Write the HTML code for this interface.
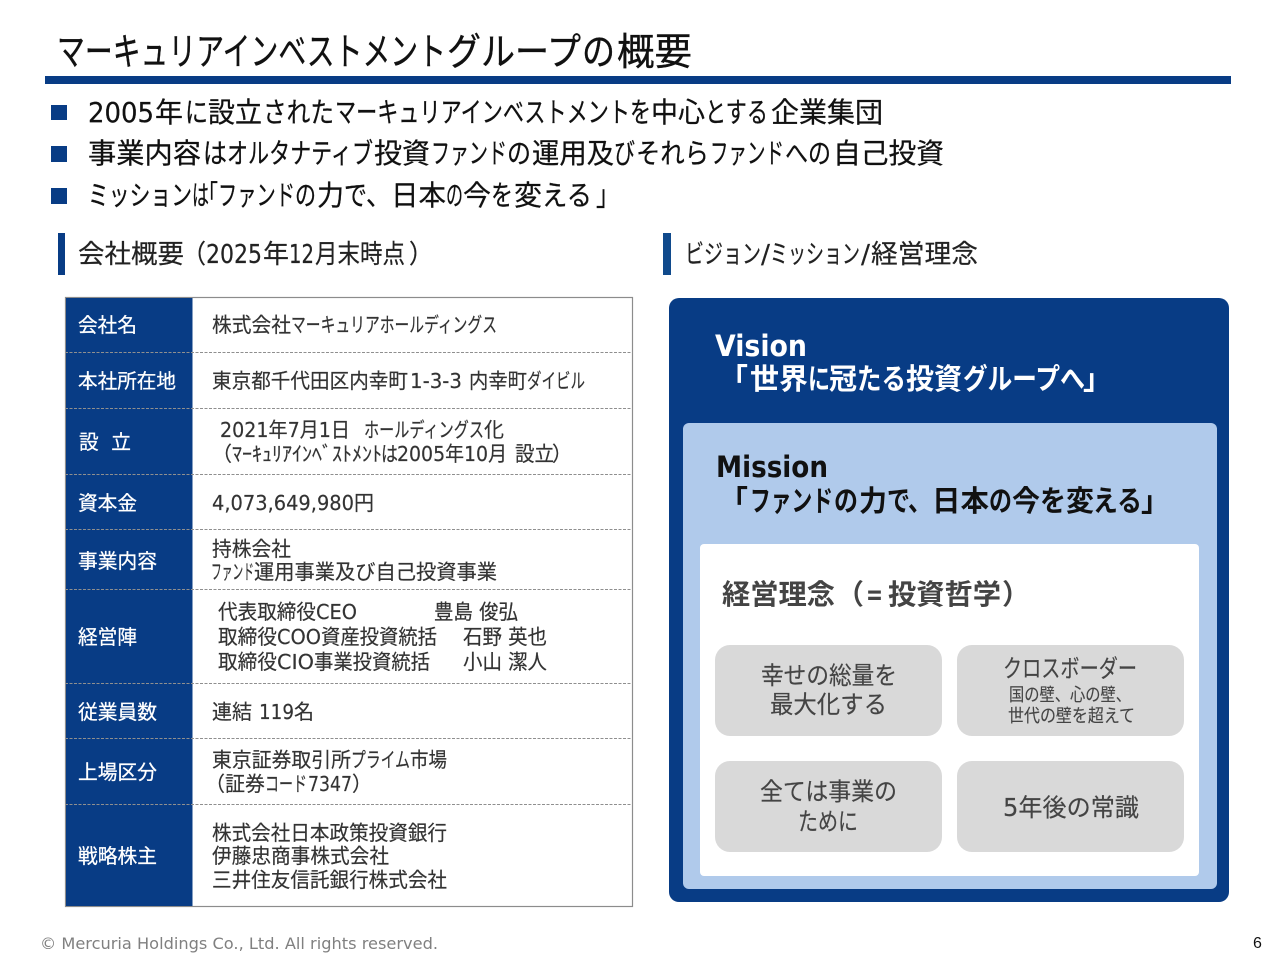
<!DOCTYPE html>
<html lang="ja"><head><meta charset="utf-8">
<style>
html,body{margin:0;padding:0;background:#fff;width:1280px;height:960px;overflow:hidden}
svg{display:block}
text{font-family:"DejaVu Sans","Noto Sans CJK JP",sans-serif;white-space:pre}
.ti{fill:#111;stroke:#111;stroke-width:.35px;font-size:38px}
.b{fill:#111;stroke:#111;stroke-width:.25px;font-size:28px}
.s{fill:#222;stroke:#222;stroke-width:.2px;font-size:26px}
.t{fill:#333;stroke:#333;stroke-width:.18px;font-size:20.5px}
.h{fill:#fff;stroke:#fff;stroke-width:.25px;font-size:20px}
.g{fill:#444;stroke:#444;stroke-width:.15px;font-size:24.5px}
.sm{fill:#444;stroke:#444;stroke-width:.12px;font-size:18px}
.v{font-weight:700;fill:#fff;font-size:29px}
.m{font-weight:700;fill:#111;font-size:29px}
.k{font-weight:700;fill:#444;font-size:28px}
</style></head><body>
<svg xmlns="http://www.w3.org/2000/svg" width="1280" height="960" viewBox="0 0 1280 960">
<rect width="1280" height="960" fill="#fff"/>
<text class="ti" x="57" y="65" textLength="389" lengthAdjust="spacingAndGlyphs">マーキュリアインベストメント</text>
<text class="ti" x="447" y="65" textLength="134" lengthAdjust="spacingAndGlyphs">グループ</text>
<text class="ti" x="582" y="65" textLength="33" lengthAdjust="spacingAndGlyphs">の</text>
<text class="ti" x="617" y="65" textLength="75" lengthAdjust="spacingAndGlyphs">概要</text>
<rect x="45" y="76" width="1186" height="8" fill="#083c85"/>

<rect x="51" y="105" width="16" height="15" fill="#083c85"/>
<rect x="51" y="146" width="16" height="16" fill="#083c85"/>
<rect x="51" y="188" width="16" height="16" fill="#083c85"/>

<text class="b" x="88" y="122" textLength="66" lengthAdjust="spacingAndGlyphs">2005</text>
<text class="b" x="155" y="122" textLength="28" lengthAdjust="spacingAndGlyphs">年</text>
<text class="b" x="185" y="122" textLength="23" lengthAdjust="spacingAndGlyphs">に</text>
<text class="b" x="208" y="122" textLength="54" lengthAdjust="spacingAndGlyphs">設立</text>
<text class="b" x="263" y="122" textLength="71" lengthAdjust="spacingAndGlyphs">された</text>
<text class="b" x="335" y="122" textLength="295" lengthAdjust="spacingAndGlyphs">マーキュリアインベストメント</text>
<text class="b" x="630" y="122" textLength="21" lengthAdjust="spacingAndGlyphs">を</text>
<text class="b" x="651" y="122" textLength="54" lengthAdjust="spacingAndGlyphs">中心</text>
<text class="b" x="705" y="122" textLength="63" lengthAdjust="spacingAndGlyphs">とする</text>
<text class="b" x="771" y="122" textLength="112" lengthAdjust="spacingAndGlyphs">企業集団</text>

<text class="b" x="88" y="163" textLength="113" lengthAdjust="spacingAndGlyphs">事業内容</text>
<text class="b" x="203" y="163" textLength="24" lengthAdjust="spacingAndGlyphs">は</text>
<text class="b" x="227" y="163" textLength="146" lengthAdjust="spacingAndGlyphs">オルタナティブ</text>
<text class="b" x="374" y="163" textLength="56" lengthAdjust="spacingAndGlyphs">投資</text>
<text class="b" x="431" y="163" textLength="76" lengthAdjust="spacingAndGlyphs">ファンド</text>
<text class="b" x="507" y="163" textLength="24" lengthAdjust="spacingAndGlyphs">の</text>
<text class="b" x="532" y="163" textLength="82" lengthAdjust="spacingAndGlyphs">運用及</text>
<text class="b" x="614" y="163" textLength="21" lengthAdjust="spacingAndGlyphs">び</text>
<text class="b" x="636" y="163" textLength="73" lengthAdjust="spacingAndGlyphs">それら</text>
<text class="b" x="710" y="163" textLength="74" lengthAdjust="spacingAndGlyphs">ファンド</text>
<text class="b" x="785" y="163" textLength="46" lengthAdjust="spacingAndGlyphs">への</text>
<text class="b" x="833" y="163" textLength="111" lengthAdjust="spacingAndGlyphs">自己投資</text>

<text class="b" x="88" y="205" textLength="104" lengthAdjust="spacingAndGlyphs">ミッション</text>
<text class="b" x="192" y="205" textLength="17" lengthAdjust="spacingAndGlyphs">は</text>
<text class="b" x="198" y="205" textLength="20" lengthAdjust="spacingAndGlyphs">「</text>
<text class="b" x="218" y="205" textLength="77" lengthAdjust="spacingAndGlyphs">ファンド</text>
<text class="b" x="295" y="205" textLength="21" lengthAdjust="spacingAndGlyphs">の</text>
<text class="b" x="317" y="205" textLength="27" lengthAdjust="spacingAndGlyphs">力</text>
<text class="b" x="344" y="205" textLength="23" lengthAdjust="spacingAndGlyphs">で</text>
<text class="b" x="366" y="205" textLength="25" lengthAdjust="spacingAndGlyphs">、</text>
<text class="b" x="391" y="205" textLength="55" lengthAdjust="spacingAndGlyphs">日本</text>
<text class="b" x="446" y="205" textLength="17" lengthAdjust="spacingAndGlyphs">の</text>
<text class="b" x="463" y="205" textLength="28" lengthAdjust="spacingAndGlyphs">今</text>
<text class="b" x="491" y="205" textLength="22" lengthAdjust="spacingAndGlyphs">を</text>
<text class="b" x="514" y="205" textLength="28" lengthAdjust="spacingAndGlyphs">変</text>
<text class="b" x="542" y="205" textLength="50" lengthAdjust="spacingAndGlyphs">える</text>
<text class="b" x="596" y="205" textLength="24" lengthAdjust="spacingAndGlyphs">」</text>

<rect x="58" y="233" width="7" height="42" fill="#083c85"/>
<text class="s" x="78" y="263" textLength="106" lengthAdjust="spacingAndGlyphs">会社概要</text>
<text class="s" x="182" y="263" textLength="24" lengthAdjust="spacingAndGlyphs">（</text>
<text class="s" x="206" y="263" textLength="56" lengthAdjust="spacingAndGlyphs">2025</text>
<text class="s" x="263" y="263" textLength="26" lengthAdjust="spacingAndGlyphs">年</text>
<text class="s" x="289" y="263" textLength="25" lengthAdjust="spacingAndGlyphs">12</text>
<text class="s" x="315" y="263" textLength="90" lengthAdjust="spacingAndGlyphs">月末時点</text>
<text class="s" x="409" y="263" textLength="24" lengthAdjust="spacingAndGlyphs">）</text>

<rect x="663" y="233" width="8" height="42" fill="#104a8c"/>
<text class="s" x="685" y="263" textLength="76" lengthAdjust="spacingAndGlyphs">ビジョン</text>
<text class="s" x="761" y="263" textLength="9" lengthAdjust="spacingAndGlyphs">/</text>
<text class="s" x="770" y="263" textLength="90" lengthAdjust="spacingAndGlyphs">ミッション</text>
<text class="s" x="861" y="263" textLength="9" lengthAdjust="spacingAndGlyphs">/</text>
<text class="s" x="871" y="263" textLength="107" lengthAdjust="spacingAndGlyphs">経営理念</text>

<!-- table -->
<rect x="65.500" y="297.500" width="567" height="609" fill="#fff" stroke="#8c8c8c" stroke-width="1.2"/>
<rect x="66" y="298" width="126.500" height="608" fill="#083c85"/>
<g stroke="#8f8f8f" stroke-width="1" stroke-dasharray="3 1.500" fill="none">
<path d="M65 352.500H633M65 408.500H633M65 474.500H633M65 529.500H633M65 589.500H633M65 683.500H633M65 738.500H633M65 804.500H633"/>
</g>

<text class="h" x="78" y="332" textLength="59" lengthAdjust="spacingAndGlyphs">会社名</text>
<text class="h" x="78" y="388" textLength="98" lengthAdjust="spacingAndGlyphs">本社所在地</text>
<text class="h" x="79" y="449" textLength="52" lengthAdjust="spacingAndGlyphs">設  立</text>
<text class="h" x="78" y="510" textLength="59" lengthAdjust="spacingAndGlyphs">資本金</text>
<text class="h" x="78" y="568" textLength="79" lengthAdjust="spacingAndGlyphs">事業内容</text>
<text class="h" x="78" y="644" textLength="59" lengthAdjust="spacingAndGlyphs">経営陣</text>
<text class="h" x="78" y="719" textLength="79" lengthAdjust="spacingAndGlyphs">従業員数</text>
<text class="h" x="78" y="779" textLength="79" lengthAdjust="spacingAndGlyphs">上場区分</text>
<text class="h" x="78" y="863" textLength="79" lengthAdjust="spacingAndGlyphs">戦略株主</text>

<text class="t" x="212" y="332" textLength="79" lengthAdjust="spacingAndGlyphs">株式会社</text>
<text class="t" x="291" y="332" textLength="206" lengthAdjust="spacingAndGlyphs">マーキュリアホールディングス</text>
<text class="t" x="212" y="388" textLength="196" lengthAdjust="spacingAndGlyphs">東京都千代田区内幸町</text>
<text class="t" x="410" y="388" textLength="52" lengthAdjust="spacingAndGlyphs">1-3-3</text>
<text class="t" x="469" y="388" textLength="58" lengthAdjust="spacingAndGlyphs">内幸町</text>
<text class="t" x="527" y="388" textLength="58" lengthAdjust="spacingAndGlyphs">ダイビル</text>
<text class="t" x="220" y="437" textLength="130" lengthAdjust="spacingAndGlyphs">2021年7月1日</text>
<text class="t" x="364" y="437" textLength="120" lengthAdjust="spacingAndGlyphs">ホールディングス</text>
<text class="t" x="484" y="437" textLength="20" lengthAdjust="spacingAndGlyphs">化</text>
<text class="t" x="212" y="461" textLength="20" lengthAdjust="spacingAndGlyphs">（</text>
<text class="t" x="232" y="461" textLength="150" lengthAdjust="spacingAndGlyphs">ﾏｰｷｭﾘｱｲﾝﾍﾞｽﾄﾒﾝﾄ</text>
<text class="t" x="381" y="461" textLength="17" lengthAdjust="spacingAndGlyphs">は</text>
<text class="t" x="397" y="461" textLength="110" lengthAdjust="spacingAndGlyphs">2005年10月</text>
<text class="t" x="515" y="461" textLength="39" lengthAdjust="spacingAndGlyphs">設立</text>
<text class="t" x="552" y="461" textLength="20" lengthAdjust="spacingAndGlyphs">）</text>
<text class="t" x="212" y="510" textLength="142" lengthAdjust="spacingAndGlyphs">4,073,649,980</text>
<text class="t" x="354" y="510" textLength="20" lengthAdjust="spacingAndGlyphs">円</text>
<text class="t" x="212" y="556" textLength="79" lengthAdjust="spacingAndGlyphs">持株会社</text>
<text class="t" x="211" y="579" textLength="43" lengthAdjust="spacingAndGlyphs">ファンド</text>
<text class="t" x="254" y="579" textLength="243" lengthAdjust="spacingAndGlyphs">運用事業及び自己投資事業</text>
<text class="t" x="218" y="619" textLength="98" lengthAdjust="spacingAndGlyphs">代表取締役</text>
<text class="t" x="316" y="619" textLength="41" lengthAdjust="spacingAndGlyphs">CEO</text>
<text class="t" x="434" y="619" textLength="84" lengthAdjust="spacingAndGlyphs">豊島 俊弘</text>
<text class="t" x="218" y="644" textLength="59" lengthAdjust="spacingAndGlyphs">取締役</text>
<text class="t" x="277" y="644" textLength="44" lengthAdjust="spacingAndGlyphs">COO</text>
<text class="t" x="321" y="644" textLength="116" lengthAdjust="spacingAndGlyphs">資産投資統括</text>
<text class="t" x="463" y="644" textLength="84" lengthAdjust="spacingAndGlyphs">石野 英也</text>
<text class="t" x="218" y="669" textLength="59" lengthAdjust="spacingAndGlyphs">取締役</text>
<text class="t" x="277" y="669" textLength="37" lengthAdjust="spacingAndGlyphs">CIO</text>
<text class="t" x="314" y="669" textLength="116" lengthAdjust="spacingAndGlyphs">事業投資統括</text>
<text class="t" x="463" y="669" textLength="84" lengthAdjust="spacingAndGlyphs">小山 潔人</text>
<text class="t" x="212" y="719" textLength="40" lengthAdjust="spacingAndGlyphs">連結</text>
<text class="t" x="259" y="719" textLength="35" lengthAdjust="spacingAndGlyphs">119</text>
<text class="t" x="294" y="719" textLength="20" lengthAdjust="spacingAndGlyphs">名</text>
<text class="t" x="212" y="767" textLength="139" lengthAdjust="spacingAndGlyphs">東京証券取引所</text>
<text class="t" x="351" y="767" textLength="59" lengthAdjust="spacingAndGlyphs">プライム</text>
<text class="t" x="410" y="767" textLength="37" lengthAdjust="spacingAndGlyphs">市場</text>
<text class="t" x="205" y="791" textLength="20" lengthAdjust="spacingAndGlyphs">（</text>
<text class="t" x="225" y="791" textLength="40" lengthAdjust="spacingAndGlyphs">証券</text>
<text class="t" x="265" y="791" textLength="42" lengthAdjust="spacingAndGlyphs">コード</text>
<text class="t" x="308" y="791" textLength="44" lengthAdjust="spacingAndGlyphs">7347</text>
<text class="t" x="352" y="791" textLength="20" lengthAdjust="spacingAndGlyphs">）</text>
<text class="t" x="212" y="840" textLength="235" lengthAdjust="spacingAndGlyphs">株式会社日本政策投資銀行</text>
<text class="t" x="212" y="863" textLength="177" lengthAdjust="spacingAndGlyphs">伊藤忠商事株式会社</text>
<text class="t" x="212" y="887" textLength="235" lengthAdjust="spacingAndGlyphs">三井住友信託銀行株式会社</text>

<!-- right panel -->
<rect x="669" y="298" width="560" height="604" rx="10" fill="#083c85"/>
<rect x="683" y="423" width="534" height="466" rx="6" fill="#b0caeb"/>
<rect x="700" y="544" width="499" height="332" rx="4" fill="#fff"/>

<text class="v" x="715" y="356" textLength="92" lengthAdjust="spacingAndGlyphs">Vision</text>
<text class="v" x="719" y="389" textLength="29" lengthAdjust="spacingAndGlyphs">「</text>
<text class="v" x="750" y="389" textLength="58" lengthAdjust="spacingAndGlyphs">世界</text>
<text class="v" x="808" y="389" textLength="22" lengthAdjust="spacingAndGlyphs">に</text>
<text class="v" x="829" y="389" textLength="28" lengthAdjust="spacingAndGlyphs">冠</text>
<text class="v" x="857" y="389" textLength="49" lengthAdjust="spacingAndGlyphs">たる</text>
<text class="v" x="906" y="389" textLength="56" lengthAdjust="spacingAndGlyphs">投資</text>
<text class="v" x="963" y="389" textLength="97" lengthAdjust="spacingAndGlyphs">グループ</text>
<text class="v" x="1060" y="389" textLength="25" lengthAdjust="spacingAndGlyphs">へ</text>
<text class="v" x="1083" y="389" textLength="29" lengthAdjust="spacingAndGlyphs">」</text>

<text class="m" x="716" y="477" textLength="112" lengthAdjust="spacingAndGlyphs">Mission</text>
<text class="m" x="719" y="511" textLength="29" lengthAdjust="spacingAndGlyphs">「</text>
<text class="m" x="750" y="511" textLength="83" lengthAdjust="spacingAndGlyphs">ファンド</text>
<text class="m" x="834" y="511" textLength="24" lengthAdjust="spacingAndGlyphs">の</text>
<text class="m" x="859" y="511" textLength="28" lengthAdjust="spacingAndGlyphs">力</text>
<text class="m" x="887" y="511" textLength="23" lengthAdjust="spacingAndGlyphs">で</text>
<text class="m" x="908" y="511" textLength="24" lengthAdjust="spacingAndGlyphs">、</text>
<text class="m" x="932" y="511" textLength="57" lengthAdjust="spacingAndGlyphs">日本</text>
<text class="m" x="989" y="511" textLength="23" lengthAdjust="spacingAndGlyphs">の</text>
<text class="m" x="1012" y="511" textLength="28" lengthAdjust="spacingAndGlyphs">今</text>
<text class="m" x="1040" y="511" textLength="26" lengthAdjust="spacingAndGlyphs">を</text>
<text class="m" x="1066" y="511" textLength="28" lengthAdjust="spacingAndGlyphs">変</text>
<text class="m" x="1093" y="511" textLength="49" lengthAdjust="spacingAndGlyphs">える</text>
<text class="m" x="1141" y="511" textLength="29" lengthAdjust="spacingAndGlyphs">」</text>

<text class="k" x="722" y="604" textLength="113" lengthAdjust="spacingAndGlyphs">経営理念</text>
<text class="k" x="836" y="604" textLength="28" lengthAdjust="spacingAndGlyphs">（</text>
<text class="k" x="866" y="604" textLength="17" lengthAdjust="spacingAndGlyphs">=</text>
<text class="k" x="888" y="604" textLength="113" lengthAdjust="spacingAndGlyphs">投資哲学</text>
<text class="k" x="1002" y="604" textLength="28" lengthAdjust="spacingAndGlyphs">）</text>

<rect x="715" y="645" width="227" height="91" rx="15" fill="#d9d9d9"/>
<rect x="957" y="645" width="227" height="91" rx="15" fill="#d9d9d9"/>
<rect x="715" y="761" width="227" height="91" rx="15" fill="#d9d9d9"/>
<rect x="957" y="761" width="227" height="91" rx="15" fill="#d9d9d9"/>
<text class="g" x="761" y="684" textLength="136" lengthAdjust="spacingAndGlyphs">幸せの総量を</text>
<text class="g" x="770" y="713" textLength="117" lengthAdjust="spacingAndGlyphs">最大化する</text>
<text class="g" x="1003" y="677" textLength="134" lengthAdjust="spacingAndGlyphs">クロスボーダー</text>
<text class="sm" x="1009" y="701" textLength="122" lengthAdjust="spacingAndGlyphs">国の壁、心の壁、</text>
<text class="sm" x="1008" y="722" textLength="127" lengthAdjust="spacingAndGlyphs">世代の壁を超えて</text>
<text class="g" x="760" y="800" textLength="137" lengthAdjust="spacingAndGlyphs">全ては事業の</text>
<text class="g" x="798" y="830" textLength="60" lengthAdjust="spacingAndGlyphs">ために</text>
<text class="g" x="1003" y="816" textLength="136" lengthAdjust="spacingAndGlyphs">5年後の常識</text>

<text fill="#808080" x="40" y="949" font-size="16" textLength="398" lengthAdjust="spacingAndGlyphs">© Mercuria Holdings Co., Ltd. All rights reserved.</text>
<text fill="#111" x="1253" y="948" font-size="16" style="font-family:'Liberation Sans',sans-serif">6</text>
</svg>
</body></html>
